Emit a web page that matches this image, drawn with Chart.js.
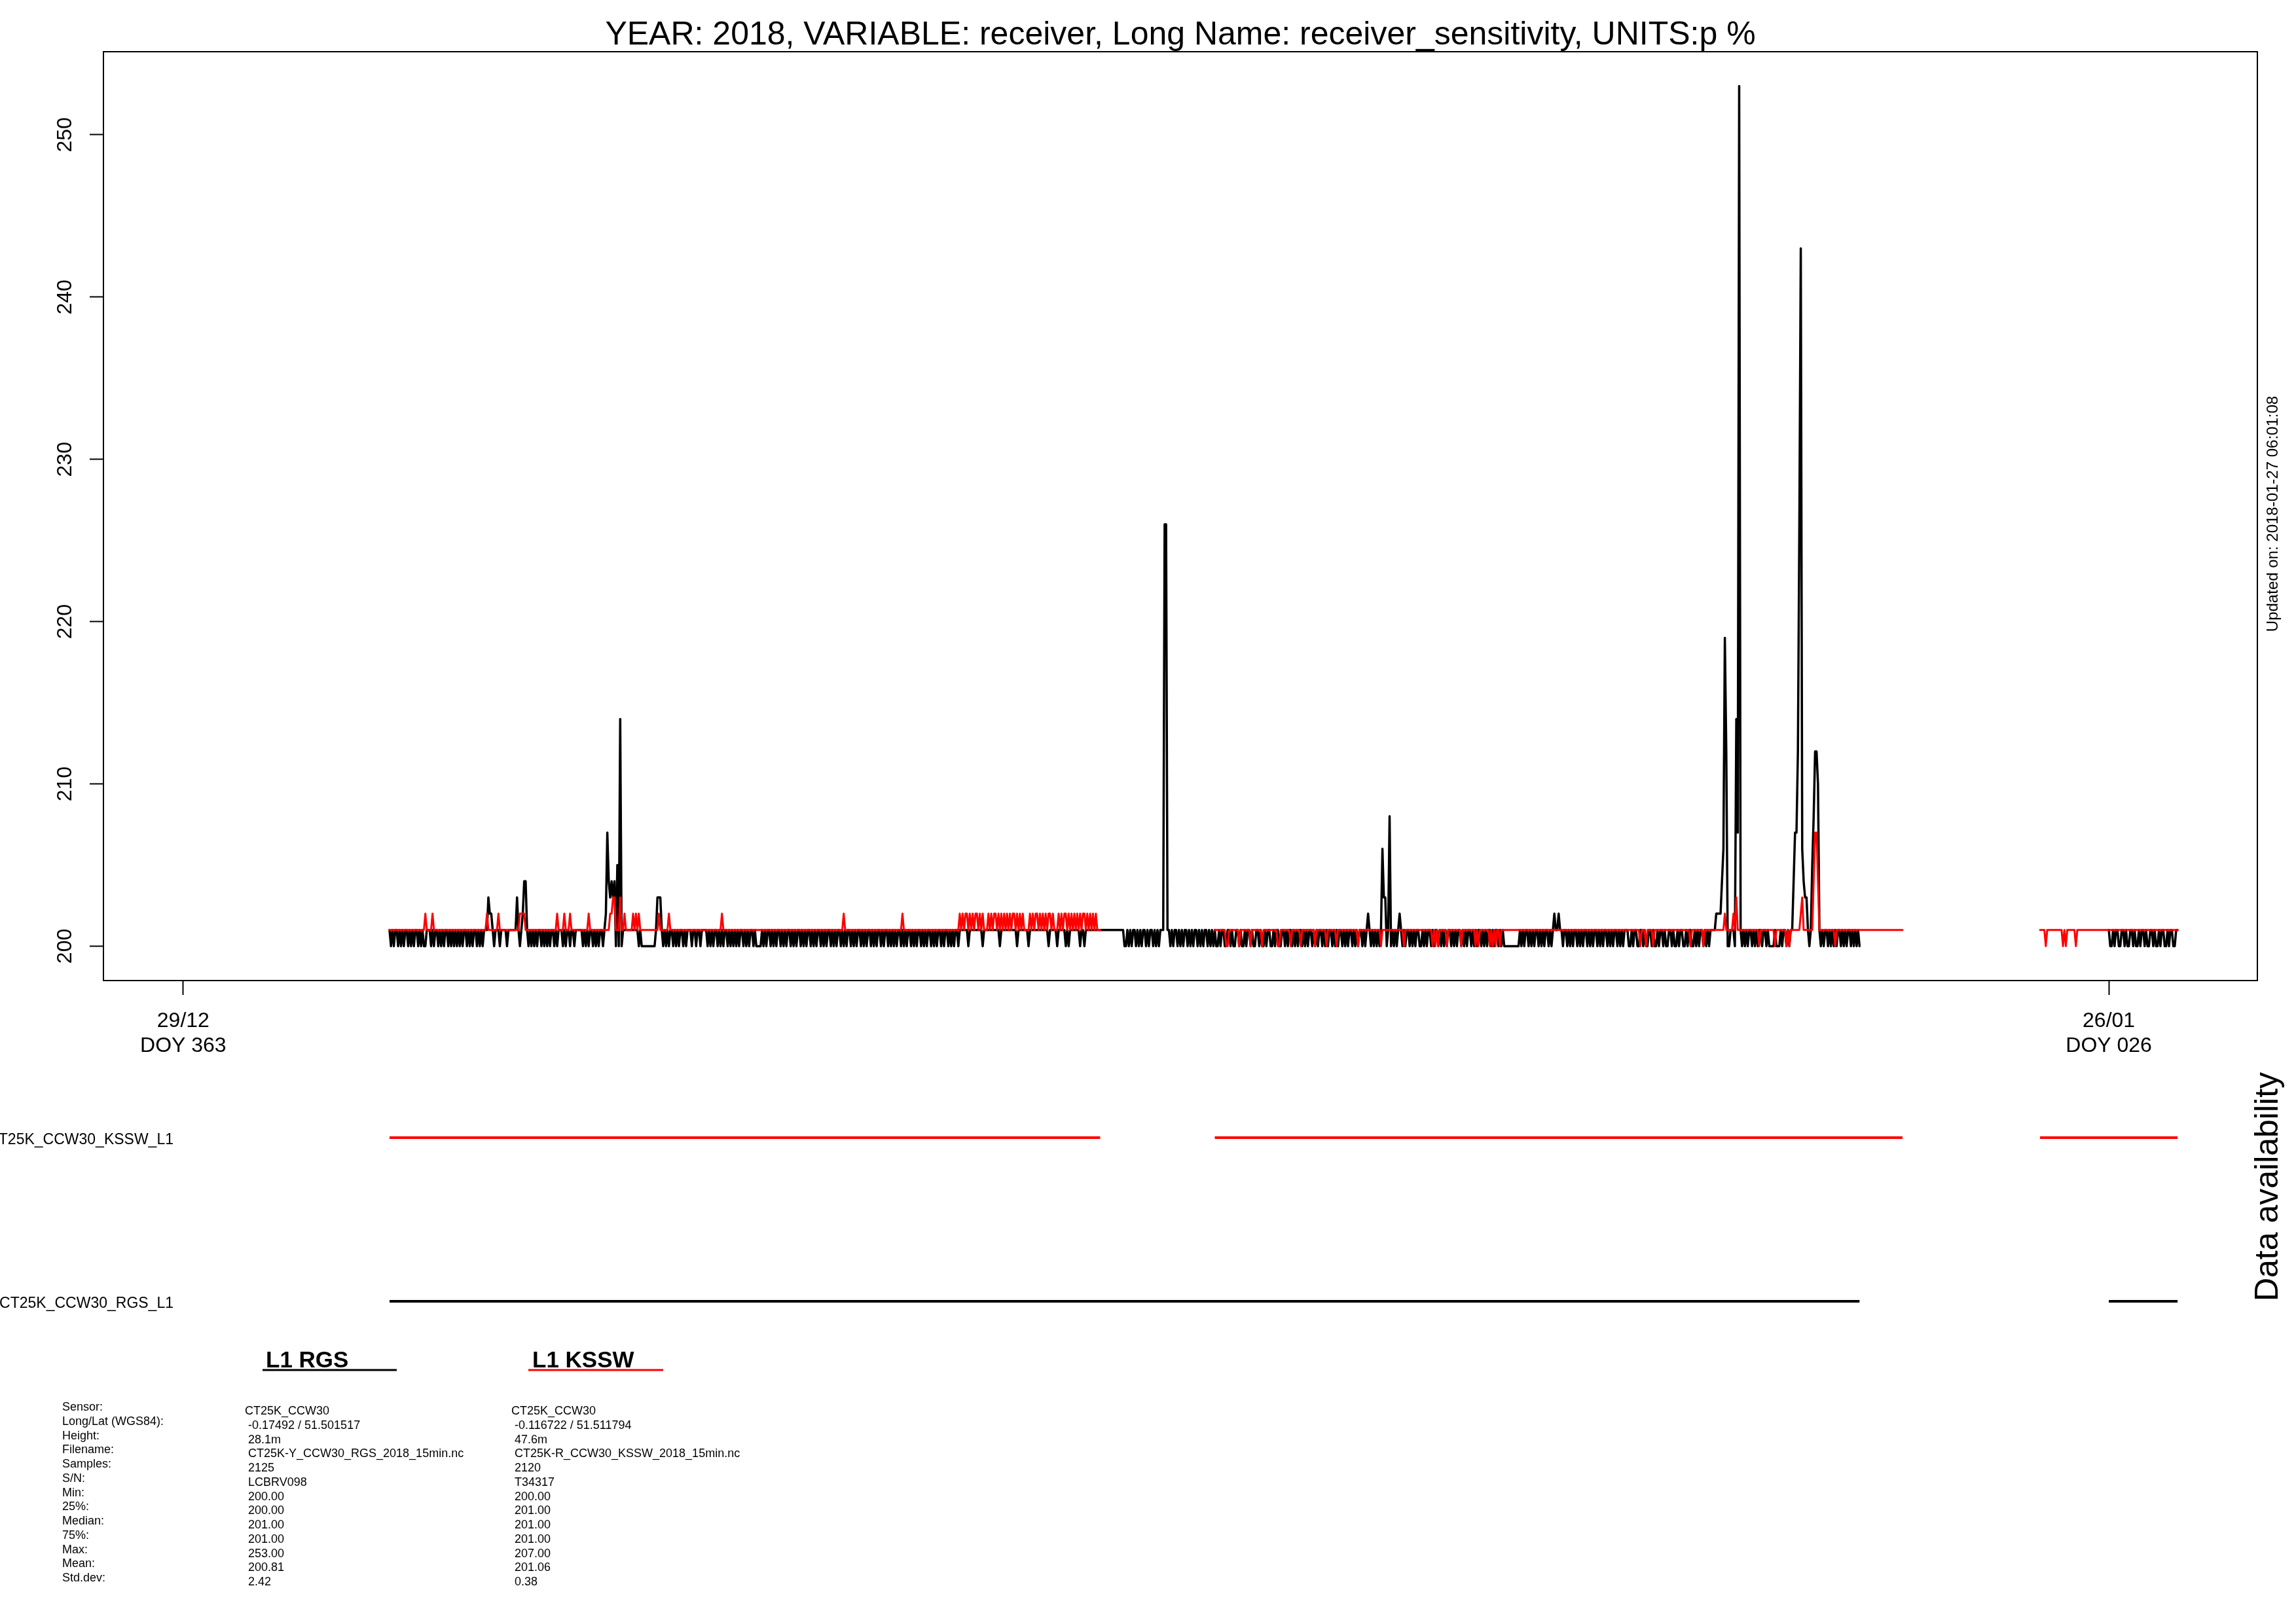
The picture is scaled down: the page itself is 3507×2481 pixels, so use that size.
<!DOCTYPE html>
<html>
<head>
<meta charset="utf-8">
<script src="https://cdn.jsdelivr.net/npm/chart.js@4.4.1/dist/chart.umd.min.js"></script>
<style>
html,body{margin:0;padding:0;background:#fff;}
body{width:3507px;height:2481px;position:relative;overflow:hidden;}
#main{position:absolute;left:0;top:0;}
#avail{position:absolute;left:0;top:1650px;}
#overlay{position:absolute;left:0;top:0;}
#overlay text{font-family:"Liberation Sans",Arial,Helvetica,sans-serif;fill:#000;}
</style>
</head>
<body>
<canvas id="main" width="3507" height="1700"></canvas>
<canvas id="avail" width="3507" height="400"></canvas>
<svg id="overlay" width="3507" height="2481" xmlns="http://www.w3.org/2000/svg"></svg>
<script>
// ---------------- DATA ----------------
const titleText = "YEAR: 2018, VARIABLE: receiver, Long Name: receiver_sensitivity, UNITS:p %";
const updatedText = "Updated on: 2018-01-27 06:01:08";
// x axis: days after 29/12 00:00
const xTickValues = [0, 28];
const xTickLabels = [["29/12", "DOY 363"], ["26/01", "DOY 026"]];
const yTickValues = [200, 210, 220, 230, 240, 250];
const seriesStartDay = 3;      // first day row = 01/01
const stepsPerDay = 48;        // half-hourly readings within each day row

// CT25K_CCW30_RGS_L1 (black): one row per day from 01/01 (null = no data)
const rgsDays = [
/*01/01*/[201,200,201,200,201,201,200,201,200,201,200,201,201,200,201,200,201,200,201,201,200,201,200,201,200,200,201,201,201,200,201,200,201,201,200,201,200,201,200,201,201,200,201,200,201,200,201,200],
/*02/01*/[201,200,201,200,201,201,200,201,200,201,200,201,201,200,201,200,201,200,201,201,201,203,202,202,201,200,201,201,201,200,201,201,201,201,200,201,201,201,201,201,201,203,201,200,201,202,204,204],
/*03/01*/[201,200,201,200,201,200,201,200,201,201,200,201,200,201,200,201,200,201,201,200,201,200,201,201,201,200,201,200,201,201,200,201,201,200,201,201,201,201,201,200,201,200,201,200,201,201,200,201],
/*04/01*/[200,201,200,201,201,200,201,202,207,204,203,204,203,204,200,205,200,214,200,201,201,201,201,201,201,201,201,201,201,201,200,201,200,200,200,200,200,200,200,200,200,200,201,203,203,203,201,200],
/*05/01*/[201,200,201,200,201,201,200,201,200,201,200,201,201,200,201,200,201,201,201,200,201,201,200,201,201,200,201,201,201,201,200,201,200,201,200,201,201,200,201,200,201,200,201,201,200,201,200,201],
/*06/01*/[200,201,200,201,200,201,201,200,201,200,201,200,201,201,200,201,200,200,200,200,201,200,201,200,201,201,200,201,200,201,200,201,201,200,201,200,201,200,201,201,200,201,200,201,200,201,201,200],
/*07/01*/[201,200,201,200,201,201,200,201,200,201,200,201,201,200,201,200,201,200,201,201,200,201,200,201,200,201,201,200,201,200,201,200,201,201,200,201,200,201,200,201,201,200,201,200,201,200,201,201],
/*08/01*/[200,201,200,201,200,201,201,200,201,200,201,201,200,201,200,201,200,201,200,201,201,200,201,200,201,200,201,201,200,201,200,201,200,201,201,200,201,200,201,200,201,201,200,201,200,201,200,201],
/*09/01*/[201,200,201,200,201,201,200,201,200,201,200,201,201,200,201,201,201,201,201,201,200,201,201,201,201,201,201,201,201,201,200,201,201,201,201,201,201,201,201,201,201,201,200,201,201,201,201,201],
/*10/01*/[201,201,201,201,201,201,200,201,201,201,201,201,201,201,200,201,201,201,201,201,201,201,201,201,201,201,201,201,200,201,201,201,201,201,200,201,201,201,201,201,200,201,200,201,201,201,201,201],
/*11/01*/[201,201,200,201,201,200,201,201,201,201,201,201,201,201,201,201,201,201,201,201,201,201,201,201,201,201,201,201,201,201,201,201,201,200,200,201,200,201,200,201,201,200,201,200,201,200,201,201],
/*12/01*/[200,201,200,201,201,200,201,200,201,200,201,201,201,226,226,201,201,200,201,200,201,201,200,201,200,201,200,201,201,200,201,200,201,200,201,201,200,201,200,201,200,201,201,200,201,200,201,200],
/*13/01*/[201,200,200,201,200,201,201,200,200,201,201,200,201,200,200,201,201,200,201,200,200,201,200,201,201,200,201,200,200,201,201,200,201,200,200,201,200,201,201,200,200,201,200,201,201,200,200,201],
/*14/01*/[201,200,201,200,201,201,200,201,200,201,200,201,201,200,201,200,201,200,201,201,200,201,200,201,200,201,201,200,201,200,201,200,201,201,200,201,200,201,200,201,201,200,201,200,201,200,201,201],
/*15/01*/[200,201,200,201,200,201,201,200,201,200,201,202,201,200,201,200,201,200,201,200,201,206,203,203,200,201,208,200,201,200,201,200,201,202,201,200,201,200,201,201,200,201,200,201,200,201,201,200],
/*16/01*/[200,201,200,201,200,201,201,200,201,200,201,201,200,201,200,201,200,201,200,201,201,200,201,200,201,200,201,201,200,201,200,201,200,201,201,200,201,200,201,200,201,201,200,201,200,201,200,201],
/*17/01*/[201,200,201,200,201,201,200,201,200,201,200,200,200,200,200,200,200,200,200,200,200,201,200,201,200,201,201,200,201,200,201,200,201,201,200,201,200,201,200,201,201,200,201,200,201,202,201,201],
/*18/01*/[202,201,201,200,201,201,200,201,200,201,200,201,201,200,201,200,201,200,201,201,200,201,200,201,200,201,201,200,201,200,201,200,201,201,200,201,200,201,200,201,201,200,201,200,201,200,201,201],
/*19/01*/[201,200,200,201,200,201,201,200,200,201,201,200,201,200,200,201,201,200,201,200,200,201,200,201,201,200,201,200,200,201,201,200,201,200,200,201,200,201,201,200,200,201,200,201,201,200,200,201],
/*20/01*/[200,201,200,201,201,200,201,200,201,200,201,201,201,201,202,202,202,202,204,206,219,212,200,200,201,201,201,200,214,207,253,201,200,201,200,201,200,201,201,200,201,200,201,200,201,201,200,201],
/*21/01*/[201,200,201,200,200,200,200,201,200,200,200,201,200,201,201,200,201,200,201,201,204,207,207,212,226,243,206,204,203,203,201,200,201,205,208,212,212,210,201,200,201,200,201,201,200,201,200,201],
/*22/01*/[200,201,200,201,201,200,201,200,201,200,201,201,200,201,200,201,200,201,200,null],
/*23/01*/[null],
/*24/01*/[null],
/*25/01*/[null],
/*26/01*/[201,200,200,201,200,201,201,200,200,201,201,200,201,200,200,201,201,200,201,200,200,201,200,201,201,200,201,200,200,201,201,200,201,200,200,201,200,201,201,200,200,201,200,201,201,200,200,201],
/*27/01*/[201]
];

// CT25K_CCW30_KSSW_L1 (red): one row per day from 01/01 (null = no data)
const ksswDays = [
/*01/01*/[201,201,201,201,201,201,201,201,201,201,201,201,201,201,201,201,201,201,201,201,201,201,201,201,201,202,201,201,201,201,202,201,201,201,201,201,201,201,201,201,201,201,201,201,201,201,201,201],
/*02/01*/[201,201,201,201,201,201,201,201,201,201,201,201,201,201,201,201,201,201,201,201,202,201,201,201,201,201,201,201,202,201,201,201,201,201,201,201,201,201,201,201,201,201,201,202,202,202,202,201],
/*03/01*/[201,201,201,201,201,201,201,201,201,201,201,201,201,201,201,201,201,201,201,201,201,202,201,201,201,201,202,201,201,201,202,201,201,201,201,201,201,201,201,201,201,201,201,202,201,201,201,201],
/*04/01*/[201,201,201,201,201,201,201,201,201,201,202,202,203,203,201,201,201,203,201,201,202,201,201,201,201,201,202,201,202,201,202,201,201,201,201,201,201,201,201,201,201,201,201,201,202,201,201,201],
/*05/01*/[201,201,201,202,201,201,201,201,201,201,201,201,201,201,201,201,201,201,201,201,201,201,201,201,201,201,201,201,201,201,201,201,201,201,201,201,201,201,201,201,202,201,201,201,201,201,201,201],
/*06/01*/[201,201,201,201,201,201,201,201,201,201,201,201,201,201,201,201,201,201,201,201,201,201,201,201,201,201,201,201,201,201,201,201,201,201,201,201,201,201,201,201,201,201,201,201,201,201,201,201],
/*07/01*/[201,201,201,201,201,201,201,201,201,201,201,201,201,201,201,201,201,201,201,201,201,201,201,201,201,201,201,201,201,202,201,201,201,201,201,201,201,201,201,201,201,201,201,201,201,201,201,201],
/*08/01*/[201,201,201,201,201,201,201,201,201,201,201,201,201,201,201,201,201,201,201,201,201,201,202,201,201,201,201,201,201,201,201,201,201,201,201,201,201,201,201,201,201,201,201,201,201,201,201,201],
/*09/01*/[201,201,201,201,201,201,201,201,201,201,201,201,201,201,202,201,202,201,202,202,201,202,201,202,201,202,202,201,202,201,202,201,201,201,202,201,202,201,202,202,201,202,201,202,201,202,201,202],
/*10/01*/[201,202,201,202,202,201,202,201,202,201,202,201,201,201,201,202,201,202,201,202,202,201,202,201,202,201,202,201,202,202,201,202,201,201,201,202,201,202,201,202,202,201,202,201,202,201,202,201],
/*11/01*/[202,201,202,201,202,202,201,202,201,202,201,202,201,202,201,201,201,null],
/*12/01*/[null],
/*13/01*/[201,201,201,201,201,201,201,201,200,200,201,201,201,201,201,201,201,200,201,201,201,201,201,201,201,200,201,201,201,201,201,201,201,200,201,201,201,201,201,201,201,201,201,201,200,200,201,201],
/*14/01*/[201,201,201,201,201,200,201,201,201,201,201,201,200,201,201,201,201,201,201,201,201,201,200,201,201,201,201,201,201,201,200,201,201,201,201,201,201,200,201,201,201,201,201,201,201,201,201,201],
/*15/01*/[201,201,201,201,200,201,201,201,201,201,201,201,201,201,201,201,201,201,201,201,200,201,201,201,201,201,201,201,201,201,201,201,201,201,201,201,200,201,201,201,201,201,201,201,201,201,201,201],
/*16/01*/[201,201,201,201,201,201,201,201,200,201,200,201,200,201,201,201,201,201,200,201,201,201,201,201,201,201,201,201,200,201,201,201,201,201,201,201,201,201,200,201,200,201,201,201,201,201,201,201],
/*17/01*/[200,201,200,201,200,201,201,200,201,201,201,201,201,201,201,201,201,201,201,201,201,201,201,201,201,201,201,201,201,201,201,201,201,201,201,201,201,201,201,201,201,201,201,201,201,201,201,201],
/*18/01*/[201,201,201,201,201,201,201,201,201,201,201,201,201,201,201,201,201,201,201,201,201,201,201,201,201,201,201,201,201,201,201,201,201,201,201,201,201,201,201,201,201,201,201,201,201,201,201,201],
/*19/01*/[201,201,201,201,201,201,201,201,201,200,201,201,201,200,201,201,201,201,200,201,201,201,201,201,201,201,201,201,201,201,201,201,201,201,201,201,201,201,201,201,201,201,201,201,200,201,201,201],
/*20/01*/[201,201,201,201,201,200,201,201,201,201,201,201,201,201,201,201,201,201,201,201,202,201,201,201,201,201,202,201,203,201,201,201,201,201,201,201,201,201,201,201,201,201,201,201,200,201,201,201],
/*21/01*/[201,201,201,201,201,201,201,200,201,201,201,201,201,201,201,200,201,200,201,201,201,201,201,201,201,202,203,201,201,201,201,201,201,201,204,207,207,204,201,201,201,201,201,201,201,201,201,201],
/*22/01*/[201,200,201,201,201,201,201,201,201,201,201,201,201,201,201,201,201,201,201,201,201,201,201,201,201,201,201,201,201,201,201,201,201,201,201,201,201,201,201,201,201,201,201,201,201,201,201,201],
/*23/01*/[201,null],
/*24/01*/[null],
/*25/01*/[201,201,201,201,200,201,201,201,201,201,201,201,201,201,201,201,200,201,200,201,201,201,201,201,201,200,201,201,201,201,201,201,201,201,201,201,201,201,201,201,201,201,201,201,201,201,201,201],
/*26/01*/[201,201,201,201,201,201,201,201,201,201,201,201,201,201,201,201,201,201,201,201,201,201,201,201,201,201,201,201,201,201,201,201,201,201,201,201,201,201,201,201,201,201,201,201,201,201,201,201],
/*27/01*/[201]
];

const availLabels = ["CT25K_CCW30_KSSW_L1", "CT25K_CCW30_RGS_L1"];
const legendNames = ["L1 RGS", "L1 KSSW"];
const statLabels = ["Sensor:", "Long/Lat (WGS84):", "Height:", "Filename:", "Samples:", "S/N:", "Min:", "25%:", "Median:", "75%:", "Max:", "Mean:", "Std.dev:"];
const rgsStats = ["CT25K_CCW30", "-0.17492 / 51.501517", "28.1m", "CT25K-Y_CCW30_RGS_2018_15min.nc", "2125", "LCBRV098", "200.00", "200.00", "201.00", "201.00", "253.00", "200.81", "2.42"];
const ksswStats = ["CT25K_CCW30", "-0.116722 / 51.511794", "47.6m", "CT25K-R_CCW30_KSSW_2018_15min.nc", "2120", "T34317", "200.00", "201.00", "201.00", "201.00", "207.00", "201.06", "0.38"];

// ---------------- SETTINGS ----------------
const FONT = '"Liberation Sans", Arial, Helvetica, sans-serif';
const xMin = -1.16, xMax = 30.16;
const yMin = 197.88, yMax = 255.12;
const RED = '#ff0000', BLACK = '#000000';

function toPoints(days, level) {
  const pts = [];
  days.forEach((vals, d) => vals.forEach((v, j) => {
    const y = (level === undefined) ? v : (v === null ? null : level);
    pts.push({x: seriesStartDay + d + j / stepsPerDay, y: y});
  }));
  return pts;
}

const boxPlugin = {
  id: 'box',
  afterDraw(chart) {
    if (!chart.options.plugins.box || !chart.options.plugins.box.show) return;
    const {ctx, chartArea: a} = chart;
    ctx.save();
    ctx.strokeStyle = '#000';
    ctx.lineWidth = 2;
    ctx.strokeRect(a.left, a.top, a.right - a.left, a.bottom - a.top);
    ctx.restore();
  }
};

new Chart(document.getElementById('main'), {
  type: 'line',
  data: {
    datasets: [
      {label: 'L1 KSSW', data: toPoints(ksswDays), borderColor: RED, borderWidth: 3, pointRadius: 0, tension: 0, spanGaps: false, order: 0, borderJoinStyle: 'round', borderCapStyle: 'round'},
      {label: 'L1 RGS', data: toPoints(rgsDays), borderColor: BLACK, borderWidth: 3.5, pointRadius: 0, tension: 0, spanGaps: false, order: 1, borderJoinStyle: 'round', borderCapStyle: 'round'}
    ]
  },
  options: {
    responsive: false, animation: false, devicePixelRatio: 1,
    layout: {padding: {left: 0, right: 59, top: 79, bottom: 0}},
    plugins: {legend: {display: false}, tooltip: {enabled: false}, box: {show: true}},
    scales: {
      x: {
        type: 'linear', min: xMin, max: xMax, position: 'bottom',
        afterBuildTicks: s => { s.ticks = xTickValues.map(v => ({value: v})); },
        afterFit: s => { s.height = 202; },
        grid: {display: true, drawOnChartArea: false, drawTicks: true, tickLength: 22, tickWidth: 2, tickColor: '#000'},
        border: {display: true, color: '#000', width: 2},
        ticks: {color: '#000', font: {family: FONT, size: 32, lineHeight: 1.2}, padding: 21, maxRotation: 0, minRotation: 0, autoSkip: false,
          callback: (v) => { const i = xTickValues.indexOf(v); return i >= 0 ? xTickLabels[i] : ''; }}
      },
      y: {
        type: 'linear', min: yMin, max: yMax,
        afterBuildTicks: s => { s.ticks = yTickValues.map(v => ({value: v})); },
        afterFit: s => { s.width = 158; },
        grid: {display: true, drawOnChartArea: false, drawTicks: true, tickLength: 21, tickWidth: 2, tickColor: '#000'},
        border: {display: true, color: '#000', width: 2},
        ticks: {color: '#000', font: {family: FONT, size: 32}, minRotation: 90, maxRotation: 90, crossAlign: 'center', padding: 10, autoSkip: false,
          callback: v => String(v)}
      }
    }
  },
  plugins: [boxPlugin]
});

new Chart(document.getElementById('avail'), {
  type: 'line',
  data: {
    datasets: [
      {label: availLabels[0], data: toPoints(ksswDays, 1), borderColor: RED, borderWidth: 4, pointRadius: 0, spanGaps: false},
      {label: availLabels[1], data: toPoints(rgsDays, 0), borderColor: BLACK, borderWidth: 4, pointRadius: 0, spanGaps: false}
    ]
  },
  options: {
    responsive: false, animation: false, devicePixelRatio: 1,
    layout: {padding: {left: 158, right: 59, top: 0, bottom: 0}},
    plugins: {legend: {display: false}, tooltip: {enabled: false}},
    scales: {
      x: {type: 'linear', min: xMin, max: xMax, display: false},
      y: {type: 'linear', min: -0.248, max: 1.352, display: false}
    }
  }
});

// ---------------- TEXT OVERLAY ----------------
const svg = document.getElementById('overlay');
const NS = 'http://www.w3.org/2000/svg';
function addText(str, x, y, o) {
  o = o || {};
  const t = document.createElementNS(NS, 'text');
  t.setAttribute('x', x); t.setAttribute('y', y);
  t.setAttribute('font-size', o.size || 18);
  if (o.anchor) t.setAttribute('text-anchor', o.anchor);
  if (o.weight) t.setAttribute('font-weight', o.weight);
  if (o.rotate) t.setAttribute('transform', 'rotate(' + o.rotate + ' ' + x + ' ' + y + ')');
  t.setAttribute('xml:space', 'preserve');
  t.textContent = str;
  svg.appendChild(t);
}
function addLine(x1, y1, x2, y2, color, w) {
  const l = document.createElementNS(NS, 'line');
  l.setAttribute('x1', x1); l.setAttribute('y1', y1); l.setAttribute('x2', x2); l.setAttribute('y2', y2);
  l.setAttribute('stroke', color); l.setAttribute('stroke-width', w);
  svg.appendChild(l);
}
addText(titleText, 1803, 68, {size: 50, anchor: 'middle'});
addText(updatedText, 3479, 785, {size: 24, anchor: 'middle', rotate: -90});
addText("Data availability", 3479, 1813, {size: 50, anchor: 'middle', rotate: -90});
addText(availLabels[0], 265, 1748, {size: 23, anchor: 'end'});
addText(availLabels[1], 265, 1998, {size: 23, anchor: 'end'});
addText(legendNames[0], 406, 2089, {size: 35, weight: 'bold'});
addLine(401, 2093, 606, 2093, BLACK, 3);
addText(legendNames[1], 813, 2089, {size: 35, weight: 'bold'});
addLine(807, 2093, 1013, 2093, RED, 3);
for (let i = 0; i < statLabels.length; i++) {
  addText(statLabels[i], 95, 2155 + 21.75 * i, {size: 18});
  addText(rgsStats[i], i === 0 ? 374 : 379, 2161 + 21.75 * i, {size: 18});
  addText(ksswStats[i], i === 0 ? 781 : 786, 2161 + 21.75 * i, {size: 18});
}
</script>
</body>
</html>
